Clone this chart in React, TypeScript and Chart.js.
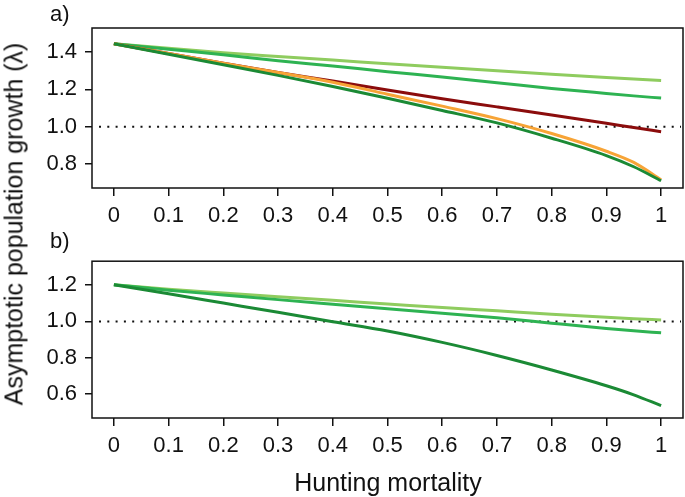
import React, { useEffect, useRef } from "react";
import { Chart, registerables } from "chart.js";

Chart.register(...registerables);

// ---- data ----
const xValues = [0, 0.1, 0.2, 0.3, 0.4, 0.5, 0.6, 0.7, 0.8, 0.9, 0.95, 1];
const xTickValues = [0, 0.1, 0.2, 0.3, 0.4, 0.5, 0.6, 0.7, 0.8, 0.9, 1];
const xTickLabels = ["0", "0.1", "0.2", "0.3", "0.4", "0.5", "0.6", "0.7", "0.8", "0.9", "1"];

// panel a
const aLightGreen = [1.445, 1.42, 1.396, 1.376, 1.357, 1.337, 1.318, 1.3, 1.281, 1.263, 1.255, 1.248];
const aMediumGreen = [1.445, 1.415, 1.385, 1.354, 1.325, 1.295, 1.266, 1.236, 1.205, 1.178, 1.165, 1.153];
const aRed = [1.445, 1.392, 1.34, 1.29, 1.245, 1.196, 1.15, 1.106, 1.062, 1.018, 0.995, 0.973];
const aOrange = [1.445, 1.392, 1.34, 1.29, 1.238, 1.174, 1.11, 1.043, 0.963, 0.868, 0.808, 0.715];
const aDarkGreen = [1.445, 1.388, 1.332, 1.275, 1.215, 1.152, 1.087, 1.02, 0.938, 0.845, 0.785, 0.71];
const aYTicks = [0.8, 1.0, 1.2, 1.4];
const aYTickLabels = ["0.8", "1.0", "1.2", "1.4"];

// panel b
const bLightGreen = [1.202, 1.177, 1.156, 1.136, 1.116, 1.096, 1.076, 1.058, 1.04, 1.023, 1.015, 1.008];
const bMediumGreen = [1.202, 1.172, 1.146, 1.12, 1.095, 1.07, 1.045, 1.02, 0.99, 0.961, 0.948, 0.937];
const bDarkGreen = [1.202, 1.152, 1.101, 1.05, 0.998, 0.947, 0.884, 0.812, 0.732, 0.645, 0.595, 0.535];
const bYTicks = [0.6, 0.8, 1.0, 1.2];
const bYTickLabels = ["0.6", "0.8", "1.0", "1.2"];

const referenceLambda = 1.0;

const COLORS = {
  lightGreen: "#8fcc5f",
  mediumGreen: "#2eb352",
  darkGreen: "#1b8a35",
  red: "#8b0c0c",
  orange: "#f7a436",
};

const FONT = "'Liberation Sans', Arial, Helvetica, sans-serif";

const toPts = (ys: number[]) => ys.map((y, i) => ({ x: xValues[i], y }));

const boxPlugin = {
  id: "boxAndRef",
  beforeDatasetsDraw(chart: any) {
    const { ctx, chartArea } = chart;
    const y = chart.scales.y.getPixelForValue(referenceLambda);
    ctx.save();
    ctx.strokeStyle = "#111";
    ctx.lineWidth = 2;
    ctx.setLineDash([2, 6.3]);
    ctx.beginPath();
    ctx.moveTo(chartArea.left + 7, y);
    ctx.lineTo(chartArea.right - 2, y);
    ctx.stroke();
    ctx.restore();
  },
  afterDraw(chart: any) {
    const { ctx, chartArea } = chart;
    ctx.save();
    ctx.strokeStyle = "#111";
    ctx.lineWidth = 1.5;
    ctx.strokeRect(chartArea.left, chartArea.top, chartArea.right - chartArea.left, chartArea.bottom - chartArea.top);
    ctx.restore();
  },
};

function makeConfig(
  datasets: { data: number[]; color: string }[],
  yMin: number,
  yMax: number,
  yTicks: number[],
  yLabels: string[],
  topPad: number,
  xAxisHeight: number
): any {
  return {
    type: "line",
    data: {
      datasets: datasets.map((d) => ({
        data: toPts(d.data),
        borderColor: d.color,
        backgroundColor: d.color,
        borderWidth: 3,
        pointRadius: 0,
        cubicInterpolationMode: "monotone",
        borderCapStyle: "butt",
        borderJoinStyle: "round",
      })),
    },
    options: {
      animation: false,
      responsive: false,
      maintainAspectRatio: false,
      layout: { padding: { top: topPad, right: 2, left: 0, bottom: 0 } },
      plugins: { legend: { display: false }, tooltip: { enabled: false } },
      scales: {
        x: {
          type: "linear",
          min: -0.04,
          max: 1.04,
          afterBuildTicks: (s: any) => {
            s.ticks = xTickValues.map((v) => ({ value: v }));
          },
          afterFit: (s: any) => {
            s.height = xAxisHeight;
          },
          ticks: {
            autoSkip: false,
            maxRotation: 0,
            padding: 7,
            color: "#111",
            font: { family: FONT, size: 22 },
            callback: (_v: any, i: number) => xTickLabels[i],
          },
          grid: {
            display: true,
            drawOnChartArea: false,
            drawTicks: true,
            tickLength: 8,
            color: "#111",
            lineWidth: 1.5,
          },
          border: { display: false },
        },
        y: {
          type: "linear",
          min: yMin,
          max: yMax,
          afterBuildTicks: (s: any) => {
            s.ticks = yTicks.map((v) => ({ value: v }));
          },
          afterFit: (s: any) => {
            s.width = 92;
          },
          ticks: {
            autoSkip: false,
            padding: 8,
            color: "#111",
            font: { family: FONT, size: 22 },
            callback: (_v: any, i: number) => yLabels[i],
          },
          grid: {
            display: true,
            drawOnChartArea: false,
            drawTicks: true,
            tickLength: 7,
            color: "#111",
            lineWidth: 1.5,
          },
          border: { display: false },
        },
      },
    },
    plugins: [boxPlugin],
  };
}

export default function App() {
  const refA = useRef<HTMLCanvasElement>(null);
  const refB = useRef<HTMLCanvasElement>(null);

  useEffect(() => {
    const chartA = new Chart(
      refA.current as HTMLCanvasElement,
      makeConfig(
        [
          { data: aDarkGreen, color: COLORS.darkGreen },
          { data: aOrange, color: COLORS.orange },
          { data: aRed, color: COLORS.red },
          { data: aMediumGreen, color: COLORS.mediumGreen },
          { data: aLightGreen, color: COLORS.lightGreen },
        ],
        0.671,
        1.529,
        aYTicks,
        aYTickLabels,
        28,
        52
      )
    );
    const chartB = new Chart(
      refB.current as HTMLCanvasElement,
      makeConfig(
        [
          { data: bDarkGreen, color: COLORS.darkGreen },
          { data: bMediumGreen, color: COLORS.mediumGreen },
          { data: bLightGreen, color: COLORS.lightGreen },
        ],
        0.467,
        1.332,
        bYTicks,
        bYTickLabels,
        18,
        52
      )
    );
    return () => {
      chartA.destroy();
      chartB.destroy();
    };
  }, []);

  const txt: React.CSSProperties = {
    position: "absolute",
    fontFamily: FONT,
    color: "#111",
    whiteSpace: "nowrap",
    lineHeight: 1,
  };

  return (
    <div style={{ position: "fixed", left: 0, top: 0, width: 685, height: 497, background: "#fff", overflow: "hidden" }}>
      <canvas ref={refA} width={685} height={240} style={{ position: "absolute", left: 0, top: 0, width: 685, height: 240 }} />
      <canvas ref={refB} width={685} height={230} style={{ position: "absolute", left: 0, top: 240, width: 685, height: 230 }} />
      <div style={{ ...txt, fontSize: 22, left: 50, top: 3 }}>a)</div>
      <div style={{ ...txt, fontSize: 22, left: 50, top: 230 }}>b)</div>
      <div style={{ ...txt, fontSize: 25, left: 388, top: 482, transform: "translate(-50%, -50%)" }}>Hunting mortality</div>
      <div
        style={{
          ...txt,
          fontSize: 25,
          left: 14,
          top: 224,
          transform: "translate(-50%, -50%) rotate(-90deg)",
        }}
      >
        Asymptotic population growth (λ)
      </div>
    </div>
  );
}
